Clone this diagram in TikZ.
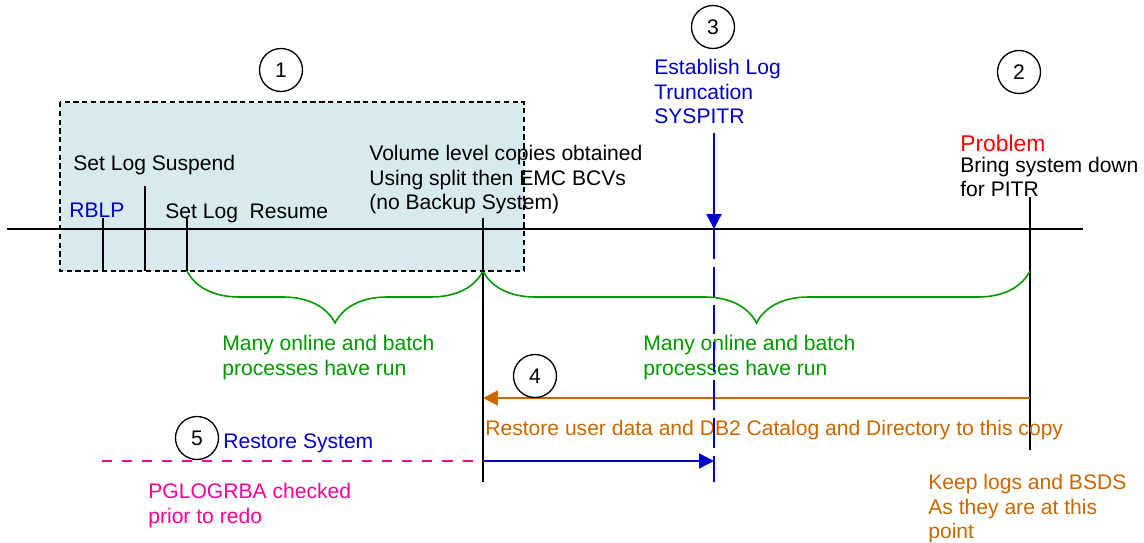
\documentclass[tikz,border=0pt]{standalone}
\usepackage{fontspec}
\setmainfont{Liberation Sans}
\usetikzlibrary{arrows.meta, positioning, decorations.pathreplacing}

\definecolor{copyfill}{RGB}{215,235,238}
\definecolor{rungreen}{RGB}{0,153,0}
\definecolor{restoreorange}{RGB}{204,102,0}
\definecolor{logblue}{RGB}{0,0,204}
\definecolor{checkpink}{RGB}{255,0,153}

\begin{document}
\begin{tikzpicture}[x=0.02cm, y=-0.02cm, txt/.style={inner sep=0pt,
      anchor=north west, align=left, font=\fontsize{12pt}{13.9pt}\selectfont},
    stepno/.style={circle, draw, line width=0.75pt, minimum size=0.86cm,
      inner sep=0pt, font=\fontsize{12pt}{14pt}\selectfont},
    tick/.style={line width=1pt}, runbrace/.style={rungreen, line
      width=0.9pt, decorate, decoration={brace, mirror, amplitude=1.04cm}},
    tip/.style={-{Triangle[length=8.5pt, width=8.5pt]}},
    copyedge/.style={line width=0.9pt, dash pattern=on 3pt off 2pt} ]

    \useasboundingbox (0,0) rectangle (1144,542);

    % Copy window
    \coordinate (box nw) at (60,102); \coordinate (box se) at (524,271);
    \fill[copyfill] (box nw) rectangle (box se);

    % Time line and ticks
    \coordinate (t0) at (7,229); \coordinate (t1) at (1083,229);
    \coordinate (rblp top) at (103,218); \coordinate (rblp bot) at (103,271);
    \coordinate (susp top) at (145,186); \coordinate (susp bot) at (145,271);
    \coordinate (res top) at (187,218); \coordinate (res bot) at (187,271);
    \coordinate (vol top) at (483,218); \coordinate (vol bot) at (483,482);
    \coordinate (vol brace) at (483,271);
    \coordinate (prob top) at (1030,197); \coordinate (prob bot) at (1030,450);
    \coordinate (prob brace) at (1030,271);
    \coordinate (pitr top) at (714,133); \coordinate (pitr mid) at (714,229);
    \coordinate (pitr bot) at (714,482);

    \draw[line width=0.8pt] (t0) -- (t1);
    \draw[tick] (rblp top) -- (rblp bot); \draw[tick] (susp top) -- (susp bot);
    \draw[tick] (res top) -- (res bot); \draw[tick] (vol top) -- (vol bot);
    \draw[tick] (prob top) -- (prob bot);

    % Processes run
    \draw[runbrace] (res bot) -- (vol brace);
    \draw[runbrace] (vol brace) -- (prob brace);

    % Restore arrows
    \coordinate (copy from) at (1030,398); \coordinate (copy to) at (483,398);
    \coordinate (sys from) at (483,461); \coordinate (sys to) at (714,461);
    \coordinate (redo from) at (102,461);
    \draw[tip, restoreorange, line width=1.1pt] (copy from) -- (copy to);
    \draw[tip, logblue, line width=0.85pt] (sys from) -- (sys to);
    \draw[checkpink, line width=0.75pt, dash pattern=on 5.7pt off 5.7pt]
    (redo from) -- (sys from);

    % Step numbers
    \node[stepno] (s1) at (281,70) {1}; \node[stepno] (s2) at (1019,72) {2};
    \node[stepno] (s3) at (713,27) {3}; \node[stepno] (s4) at (535,376) {4};
    \node[stepno] (s5) at (197,438) {5};

    % Labels
    \node[txt] (suspend) at (73,155) {Set Log Suspend};
    \node[txt, text=logblue] (rblp) at (69,203) {RBLP};
    \node[txt] (resume) at (165,203) {Set Log\ \ Resume};
    \node[txt] (volume) at (369,145) {Volume level copies obtained\\Using
      split then EMC BCVs\\(no Backup System)};
    \node[txt, text=logblue] (trunc) at (654,59) {Establish
      Log\\Truncation\\SYSPITR};
    \node[txt, text=red, font=\fontsize{13pt}{14pt}\selectfont] (problem) at
    (960,135) {Problem};
    \node[txt, font=\fontsize{12pt}{13.3pt}\selectfont] (down) at (960,157)
    {Bring system down\\for PITR};
    \node[txt, text=rungreen] (run1) at (222,335) {Many online and
      batch\\processes have run};
    \node[txt, text=rungreen] (run2) at (643,335) {Many online and
      batch\\processes have run};
    \node[txt, text=logblue] (restsys) at (223,433) {Restore System};
    \node[txt, text=restoreorange] (restuser) at (485,420) {Restore user data
      and DB2 Catalog and Directory to this copy};
    \node[txt, text=checkpink] (pglog) at (148,483) {PGLOGRBA
      checked\\prior to redo};
    \node[txt, text=restoreorange] (keep) at (928,474) {Keep logs and
      BSDS\\As they are at this\\point};

    % Log truncation point
    \draw[tip, logblue, line width=1.4pt] (pitr top) -- (pitr mid);
    \draw[logblue, line width=1.4pt, dash pattern=on 17pt off 4.5pt] (pitr
    mid) -- (pitr bot);

    \draw[copyedge] (box nw) rectangle (box se);

\end{tikzpicture}
\end{document}
